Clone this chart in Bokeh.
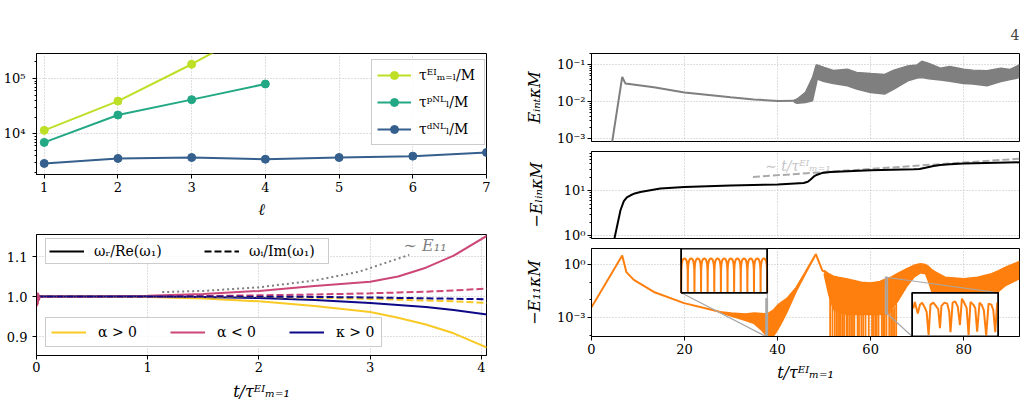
import numpy as np
from bokeh.plotting import figure
from bokeh.layouts import row, column
from bokeh.models import (FixedTicker, CustomJSTickFormatter, PrintfTickFormatter,
                          Legend, LegendItem, Range1d, LogScale)
from bokeh.core.properties import value
from bokeh.embed import file_html
from bokeh.resources import INLINE

FONT = "DejaVu Serif"

# ---------------- top-left: timescales vs ell ----------------
ell_ticks = [1, 2, 3, 4, 5, 6, 7]
ell_EI = [1, 2, 3, 4]
tau_EI = [1.15e4, 3.9e4, 1.82e5, 9.8e5]
ell_pNL = [1, 2, 3, 4]
tau_pNL = [6.95e3, 2.18e4, 4.15e4, 7.98e4]
ell_dNL = [1, 2, 3, 4, 5, 6, 7]
tau_dNL = [2890, 3560, 3700, 3450, 3700, 3920, 4570]

# ---------------- bottom-left: frequency ratios ----------------
t_w = [0.0, 0.5, 1.0, 1.5, 2.0, 2.5, 3.0, 3.25, 3.5, 3.75, 4.05]
wR_apos = [1.0, 1.0, 0.999, 0.995, 0.988, 0.976, 0.961, 0.947, 0.930, 0.908, 0.872]
wR_aneg = [1.0, 1.0, 1.002, 1.006, 1.014, 1.026, 1.037, 1.050, 1.072, 1.102, 1.152]
wR_kpos = [1.0, 1.0, 1.0, 0.999, 0.996, 0.991, 0.984, 0.979, 0.974, 0.966, 0.955]
wI_apos = [1.0, 1.0, 1.0, 0.9995, 0.999, 0.997, 0.994, 0.992, 0.990, 0.988, 0.984]
wI_aneg = [1.0, 1.0, 1.0, 1.001, 1.003, 1.005, 1.008, 1.010, 1.012, 1.015, 1.020]
wI_kpos = [1.0, 1.0, 1.0, 1.0, 0.9995, 0.999, 0.9975, 0.9965, 0.9955, 0.9945, 0.993]
t_E11 = [1.13, 1.5, 2.0, 2.5, 2.9, 3.35]
E11_scaled = [1.011, 1.014, 1.023, 1.040, 1.062, 1.104]
t_start = [0.0, 0.004, 0.008, 0.012, 0.016, 0.02, 0.03]
start_osc = [1.0, 0.976, 1.01, 0.98, 1.008, 0.99, 1.0]
w_ticks = [0, 1, 2, 3, 4]
w_yticks = [0.9, 1.0, 1.1]

# ---------------- right: energies ----------------
t_ticks = [0, 20, 40, 60, 80]
eint_t = [4.0, 6.6, 7.3, 13.4, 20.0, 29.9, 34.9, 40.0, 44.0]
eint = [3.5e-4, 0.047, 0.031, 0.0245, 0.0178, 0.0131, 0.0115, 0.0104, 0.0105]
eint_band_t = [43.5, 44.2, 46.0, 47.5, 48.3, 48.5, 50, 52, 55, 57, 60, 63, 65, 68, 70, 71, 72.5, 75,
               77, 80, 82, 85, 88, 90, 92]
eint_band_hi = [0.0108, 0.0118, 0.0178, 0.045, 0.1, 0.1, 0.085, 0.07, 0.076, 0.062, 0.058, 0.055,
                0.072, 0.094, 0.1, 0.125, 0.11, 0.081, 0.09, 0.076, 0.072, 0.069, 0.081, 0.075, 0.1]
eint_band_lo = [0.0098, 0.009, 0.0095, 0.0105, 0.03, 0.041, 0.035, 0.031, 0.027, 0.022, 0.0178, 0.016,
                0.022, 0.037, 0.044, 0.045, 0.042, 0.039, 0.036, 0.031, 0.03, 0.027, 0.035, 0.04, 0.045]

elin_t = [4.6, 6.23, 6.95, 7.6, 8.4, 9.3, 10.5, 14.8, 20, 29.9, 40, 45.6, 46.5, 47.1, 47.8, 48.5, 49.5,
          51.4, 60, 69.3, 70.5, 71.8, 73.5, 75, 77, 80, 92]
elin = [0.6, 3.7, 5.9, 7.2, 8.0, 8.8, 9.5, 11.3, 12.3, 13.2, 13.9, 15, 16, 18, 21, 23, 25,
        26.5, 28.8, 30.3, 31, 33, 36, 38, 39.5, 40.7, 43.5]
lin_ref_t = [34.7, 92]
lin_ref = [20.5, 52.4]

e11_t = [0, 6.6, 7.5, 9.1, 13.4, 19.9, 24.9, 27.5]
e11 = [0.0038, 3.2, 0.37, 0.135, 0.028, 0.0065, 0.0031, 0.0021]
e11_b1_t = [27.5, 30, 33, 35, 36.5, 37.8]
e11_b1_hi = [0.0021, 0.0018, 0.0016, 0.0018, 0.0017, 0.0016]
e11_b1_lo = [0.0020, 0.0012, 0.0007, 0.00045, 0.0002, 0.00008]
e11_b2_t = [37.8, 39, 40, 41, 42, 44, 46, 48.2]
e11_b2_hi = [0.0016, 0.0025, 0.005, 0.008, 0.012, 0.05, 0.4, 4.0]
e11_b2_lo = [0.00008, 0.00008, 0.0002, 0.0006, 0.002, 0.03, 0.3, 3.5]
e11_peak_t = [48.2, 49.6, 50.0]
e11_peak = [4.0, 0.46, 0.4]
e11_b3_t = [50, 51, 52, 53, 55, 58, 60, 62, 63.5, 64.5, 65.7, 67.9, 69.3, 70.7, 71.8, 72.5, 73.2, 74,
            76, 80, 83, 86, 87.5, 89, 92]
e11_b3_hi = [0.46, 0.3, 0.22, 0.19, 0.15, 0.1, 0.09, 0.11, 0.16, 0.2, 0.3, 0.6, 0.9, 1.1, 1.0, 0.75,
             0.5, 0.37, 0.19, 0.155, 0.19, 0.3, 0.45, 0.7, 1.5]
e11_b3_lo = [0.3, 0.02, 0.003, 0.002, 0.0015, 0.0015, 0.0015, 0.0015, 0.0015, 0.003, 0.0074, 0.065,
             0.19, 0.34, 0.3, 0.1, 0.027, 0.015, 0.01, 0.01, 0.01, 0.02, 0.03, 0.065, 0.16]
e11_spike_t = [51.3, 51.8, 52.3, 52.7, 53.0, 53.4, 53.6, 54.0, 54.3, 54.8, 55.0, 55.4, 55.8, 56.2,
               56.5, 57.2, 57.5, 58.0, 58.4, 58.9, 59.6, 60.3, 60.6, 61.0, 61.3, 61.7, 62.4, 62.7,
               63.0, 63.4, 64.0, 64.4, 64.8, 65.1, 65.5]
e11_spike_top = [0.02, 0.01, 0.003, 0.003, 0.003, 0.002, 0.003, 0.002, 0.002, 0.002, 0.002, 0.002,
                 0.002, 0.002, 0.002, 0.002, 0.002, 0.002, 0.002, 0.002, 0.002, 0.002, 0.002, 0.002,
                 0.002, 0.002, 0.002, 0.002, 0.002, 0.002, 0.003, 0.003, 0.003, 0.004, 0.006]

# inset 1: regular oscillation around t ~ 37.5
inset1_cycle_start = [37.5000, 37.5231, 37.5462, 37.5692, 37.5923, 37.6154, 37.6385,
                      37.6615, 37.6846, 37.7077, 37.7308, 37.7538, 37.7769]
inset1_arch_dt = [0, 0.0005, 0.0015, 0.003, 0.005, 0.0075, 0.0095, 0.0115, 0.0135, 0.0155,
                  0.018, 0.02, 0.0215, 0.0226, 0.0231]
inset1_arch_logy = [-4.075, -3.0, -2.75, -2.6, -2.5, -2.45, -2.43, -2.42, -2.43, -2.45, -2.5,
                    -2.6, -2.75, -3.0, -4.075]
# inset 2: irregular oscillation around t ~ 63.4
inset2_t = [63.205, 63.212, 63.220, 63.226, 63.236, 63.246, 63.257, 63.267, 63.276, 63.285, 63.298,
            63.310, 63.321, 63.329, 63.336, 63.350, 63.363, 63.372, 63.378, 63.388, 63.400, 63.412,
            63.422, 63.431, 63.440, 63.453, 63.462, 63.471, 63.484, 63.493, 63.502, 63.513, 63.524,
            63.533, 63.544, 63.555, 63.568, 63.577, 63.586, 63.595]
inset2_logy = [-1.467, -1.157, -1.467, -1.701, -1.281, -1.188, -1.389, -1.623, -2.711, -1.281, -1.188,
               -1.343, -1.498, -2.401, -1.343, -1.188, -1.233, -1.623, -2.587, -1.188, -1.124, -1.389,
               -2.246, -1.000, -1.157, -1.436, -2.711, -1.157, -1.281, -1.436, -2.556, -1.188, -1.312,
               -1.544, -2.742, -1.233, -1.281, -1.544, -2.587, -1.188]

C_EI, C_PNL, C_DNL = "#bddf26", "#22a884", "#355f8d"
C_AP, C_AN, C_KP = "#f9c925", "#cc4778", "#0d0887"
C_OR, C_GR = "#ff7f0e", "#7f7f7f"


def log_fmt():
    return CustomJSTickFormatter(code="""
const sup = {"-": "\u207b", "0": "\u2070", "1": "\u00b9", "2": "\u00b2", "3": "\u00b3",
             "4": "\u2074", "5": "\u2075", "6": "\u2076", "7": "\u2077", "8": "\u2078", "9": "\u2079"};
const e = Math.round(Math.log10(tick));
return "10" + String(e).split("").map(c => sup[c]).join("");
""")


def minor_log(lo_exp, hi_exp):
    return [m * 10.0 ** e for e in range(lo_exp, hi_exp) for m in range(2, 10)]


def base_fig(w, h, xr, yr, ylog, bl, br, bt, bb, title=None):
    kw = dict(width=w, height=h, x_range=xr, y_range=yr,
              y_axis_type="log" if ylog else "linear",
              output_backend="svg", toolbar_location=None,
              min_border_left=bl, min_border_right=br, min_border_top=bt, min_border_bottom=bb)
    if title is not None:
        kw["title"] = title
    p = figure(**kw)
    p.outline_line_color = "black"
    p.outline_line_alpha = 1.0
    p.outline_line_width = 1
    p.background_fill_color = "white"
    p.border_fill_color = "white"
    for ax in p.axis:
        ax.axis_line_color = "black"
        ax.major_tick_in = 0
        ax.major_tick_out = 4
        ax.minor_tick_in = 0
        ax.minor_tick_out = 2
        ax.major_tick_line_color = "black"
        ax.minor_tick_line_color = "black"
        ax.major_label_text_font = FONT
        ax.major_label_text_font_size = "13px"
        ax.major_label_text_color = "black"
        ax.axis_label_text_font = FONT
        ax.axis_label_text_font_size = "16px"
        ax.axis_label_text_color = "black"
        ax.axis_label_text_font_style = "italic"
    p.grid.grid_line_color = "#b0b0b0"
    p.grid.grid_line_dash = "1 2"
    p.grid.grid_line_alpha = 0.8
    p.grid.grid_line_width = 1
    return p


def style_legend(lg, padding, lh, gw, standoff, spacing, lw):
    lg.padding = padding
    lg.label_height = lh
    lg.glyph_height = lh
    lg.glyph_width = gw
    lg.label_standoff = standoff
    lg.spacing = spacing
    lg.label_width = lw
    lg.margin = 0
    lg.label_text_font = FONT
    lg.label_text_font_size = "14px"
    lg.label_text_color = "black"
    lg.border_line_color = "#cccccc"
    lg.border_line_width = 1.2
    lg.border_line_alpha = 1.0
    lg.background_fill_color = "white"
    lg.background_fill_alpha = 0.85


# ======================= P1 =======================
p1 = base_fig(500, 222, Range1d(0.895, 7.0), Range1d(1820, 2.85e5), True, 36, 14, 53, 48)
p1.xaxis.ticker = FixedTicker(ticks=ell_ticks)
p1.yaxis.ticker = FixedTicker(ticks=[1e4, 1e5], minor_ticks=minor_log(3, 5) + [2e5])
p1.yaxis.formatter = log_fmt()
p1.xaxis.axis_label = "ℓ"
p1.xaxis.major_label_standoff = 3
p1.yaxis.major_label_standoff = 7
for xs, ys, c, lab in [(ell_EI, tau_EI, C_EI, "τᴱᴵₘ₌ₗ/M"),
                       (ell_pNL, tau_pNL, C_PNL, "τᵖᴺᴸₗ/M"),
                       (ell_dNL, tau_dNL, C_DNL, "τᵈᴺᴸₗ/M")]:
    p1.line(xs, ys, color=c, line_width=2, legend_label=lab)
    p1.scatter(xs, ys, color=c, size=8, legend_label=lab)
lg1 = p1.legend[0]
lg1.location = (335, 29)
style_legend(lg1, 5, 20, 34, 8, 7, 60)

# ======================= P2 =======================
p2 = base_fig(500, 189, Range1d(0, 4.045), Range1d(0.8525, 1.155), False, 36, 14, 12, 56)
p2.xaxis.ticker = FixedTicker(ticks=w_ticks)
p2.yaxis.ticker = FixedTicker(ticks=w_yticks)
p2.yaxis.formatter = PrintfTickFormatter(format="%.1f")
p2.xaxis.axis_label = "t/τᴱᴵₘ₌₁"
p2.xaxis.major_label_standoff = 2
p2.xaxis.axis_label_standoff = 7
p2.yaxis.major_label_standoff = 5

p2.line(t_E11, E11_scaled, color="gray", line_width=2, line_dash="2 3")
r_ap = p2.line(t_w, wR_apos, color=C_AP, line_width=2)
r_an = p2.line(t_w, wR_aneg, color=C_AN, line_width=2)
r_kp = p2.line(t_w, wR_kpos, color=C_KP, line_width=2)
p2.line(t_w, wI_apos, color=C_AP, line_width=2, line_dash="7 3")
p2.line(t_w, wI_aneg, color=C_AN, line_width=2, line_dash="7 3")
p2.line(t_w, wI_kpos, color=C_KP, line_width=2, line_dash="7 3")
p2.line(t_start, start_osc, color=C_AN, line_width=2)
p2.text(x=[3.3], y=[1.1035], text=["∼ E₁₁"], text_color="gray", text_font=value(FONT),
        text_font_size="16px", text_baseline="bottom", text_align="left", text_font_style="italic")

# legend-only proxies (kept outside the visible y range)
proxy_t = [0.0, 1.0]
proxy_y = [0.5, 0.5]
d_solid = p2.line(proxy_t, proxy_y, color="black", line_width=2)
d_dash = p2.line(proxy_t, proxy_y, color="black", line_width=2, line_dash="7 3")
lg_top = Legend(items=[LegendItem(label="ωᵣ/Re(ω₁)", renderers=[d_solid]),
                       LegendItem(label="ωᵢ/Im(ω₁)", renderers=[d_dash])],
                location=(9, 91), orientation="horizontal")
style_legend(lg_top, 3, 18, 35, 10, 34, 76)
lg_bot = Legend(items=[LegendItem(label="α > 0", renderers=[r_ap]),
                       LegendItem(label="α < 0", renderers=[r_an]),
                       LegendItem(label="κ > 0", renderers=[r_kp])],
                location=(9, 8), orientation="horizontal")
style_legend(lg_bot, 5, 18, 35, 12, 32, 40)
p2.add_layout(lg_top)
p2.add_layout(lg_bot)

# ======================= P3 =======================
p3 = base_fig(526, 150, Range1d(0, 92), Range1d(10 ** -3.086, 10 ** -0.69), True, 91, 7, 53, 9, title="4")
p3.title.align = "right"
p3.title.text_font = FONT
p3.title.text_font_style = "normal"
p3.title.text_font_size = "14px"
p3.title.standoff = 28
p3.xaxis.visible = False
p3.xgrid.ticker = FixedTicker(ticks=t_ticks)
p3.yaxis.ticker = FixedTicker(ticks=[1e-3, 1e-2, 1e-1], minor_ticks=minor_log(-3, -1) + [0.2])
p3.yaxis.formatter = log_fmt()
p3.yaxis.major_label_standoff = 2
p3.yaxis.axis_label = "EᵢₙₜκM"
p3.yaxis.axis_label_standoff = 10
p3.line(eint_t, eint, color=C_GR, line_width=2)
p3.varea(x=eint_band_t, y1=eint_band_lo, y2=eint_band_hi, color=C_GR)
p3.line(eint_band_t, eint_band_hi, color=C_GR, line_width=1.5)
p3.line(eint_band_t, eint_band_lo, color=C_GR, line_width=1.5)

# ======================= P4 =======================
p4 = base_fig(526, 97, Range1d(0, 92), Range1d(10 ** -0.062, 10 ** 1.88), True, 91, 7, 1, 9)
p4.xaxis.visible = False
p4.xgrid.ticker = FixedTicker(ticks=t_ticks)
p4.yaxis.ticker = FixedTicker(ticks=[1, 10], minor_ticks=[0.9] + minor_log(0, 2))
p4.yaxis.formatter = log_fmt()
p4.yaxis.major_label_standoff = 2
p4.yaxis.axis_label = "−EₗᵢₙκM"
p4.yaxis.axis_label_standoff = 15
p4.line(lin_ref_t, lin_ref, color="#aaaaaa", line_width=2, line_dash="7 3")
p4.line(elin_t, elin, color="black", line_width=2)
p4.text(x=[37.3], y=[10 ** 1.56], text=["∼ t/τᴱᴵₘ₌₁"], text_color="#c4c4c4", text_font=value(FONT),
        text_font_size="14px", text_baseline="alphabetic", text_align="left", text_font_style="italic")

# ======================= P5 =======================
LY0, LY1 = -4.075, 0.906
X0, X1 = 0.0, 92.0
p5 = base_fig(526, 164, Range1d(X0, X1), Range1d(10 ** LY0, 10 ** LY1), True, 91, 7, 1, 75)
p5.xaxis.ticker = FixedTicker(ticks=t_ticks)
p5.xaxis.axis_label = "t/τᴱᴵₘ₌₁"
p5.xaxis.major_label_standoff = 3
p5.xaxis.axis_label_standoff = 6
p5.yaxis.ticker = FixedTicker(ticks=[1e-3, 1.0], minor_ticks=[1e-4, 1e-2, 1e-1])
p5.yaxis.formatter = log_fmt()
p5.yaxis.major_label_standoff = 2
p5.yaxis.axis_label = "−E₁₁κM"
p5.yaxis.axis_label_standoff = 10

p5.line(e11_t, e11, color=C_OR, line_width=2)
for bt, lo, hi in [(e11_b1_t, e11_b1_lo, e11_b1_hi), (e11_b2_t, e11_b2_lo, e11_b2_hi),
                   (e11_b3_t, e11_b3_lo, e11_b3_hi)]:
    p5.varea(x=bt, y1=lo, y2=hi, color=C_OR)
    p5.line(bt, hi, color=C_OR, line_width=1.5)
    p5.line(bt, lo, color=C_OR, line_width=1.5)
p5.line(e11_peak_t, e11_peak, color=C_OR, line_width=2)
p5.segment(x0=e11_spike_t, y0=[1e-6] * len(e11_spike_t), x1=e11_spike_t, y1=e11_spike_top,
           color=C_OR, line_width=1.8)

# insets (box position given in main data coords, inset data range in its own coords)
in1_t, in1_ly = (37.5, 37.8), (-4.075, -1.94)
box1_t, box1_ly = (19.28, 37.77), (-1.60, LY1)
in2_t, in2_ly = (63.2, 63.6), (-2.79, -0.72)
box2_t, box2_ly = (68.94, 87.43), (LY0, -1.60)


def inset_ranges(box_t, box_ly, in_t, in_ly):
    sx = (in_t[1] - in_t[0]) / (box_t[1] - box_t[0])
    xr = Range1d(in_t[0] + (X0 - box_t[0]) * sx, in_t[0] + (X1 - box_t[0]) * sx)
    sy = (in_ly[1] - in_ly[0]) / (box_ly[1] - box_ly[0])
    yr = Range1d(10 ** (in_ly[0] + (LY0 - box_ly[0]) * sy), 10 ** (in_ly[0] + (LY1 - box_ly[0]) * sy))
    return xr, yr


xr1, yr1 = inset_ranges(box1_t, box1_ly, in1_t, in1_ly)
xr2, yr2 = inset_ranges(box2_t, box2_ly, in2_t, in2_ly)
p5.extra_x_ranges = {"i1x": xr1, "i2x": xr2}
p5.extra_y_ranges = {"i1y": yr1, "i2y": yr2}
p5.extra_y_scales = {"i1y": LogScale(), "i2y": LogScale()}

# zoom markers and connectors (main coords)
CONN = "#a8a8a8"
for it, il in [(in1_t, in1_ly), (in2_t, in2_ly)]:
    p5.quad(left=[it[0]], right=[it[1]], bottom=[10 ** il[0]], top=[10 ** il[1]],
            fill_alpha=0, line_color=CONN, line_width=1.5)
p5.segment(x0=[box1_t[0], box1_t[1], in2_t[0], in2_t[1]],
           y0=[10 ** box1_ly[0], 10 ** box1_ly[0], 10 ** in2_ly[1], 10 ** in2_ly[0]],
           x1=[in1_t[0], in1_t[1], box2_t[1], box2_t[0]],
           y1=[10 ** in1_ly[0], 10 ** in1_ly[1], 10 ** box2_ly[1], 10 ** box2_ly[0]],
           color=CONN, line_width=1.2)

# inset 1
ins1_x = [s + d for s in inset1_cycle_start for d in inset1_arch_dt]
ins1_y = [10 ** v for s in inset1_cycle_start for v in inset1_arch_logy]
p5.quad(left=[in1_t[0]], right=[in1_t[1]], bottom=[10 ** in1_ly[0]], top=[10 ** in1_ly[1]],
        fill_color="white", line_color="black", line_width=1.5,
        x_range_name="i1x", y_range_name="i1y")
p5.line(ins1_x, ins1_y, color=C_OR, line_width=2, x_range_name="i1x", y_range_name="i1y")
p5.quad(left=[in1_t[0]], right=[in1_t[1]], bottom=[10 ** in1_ly[0]], top=[10 ** in1_ly[1]],
        fill_alpha=0, line_color="black", line_width=1.5,
        x_range_name="i1x", y_range_name="i1y")

# inset 2
ins2_y = [10 ** v for v in inset2_logy]
p5.quad(left=[in2_t[0]], right=[in2_t[1]], bottom=[10 ** in2_ly[0]], top=[10 ** in2_ly[1]],
        fill_color="white", line_color="black", line_width=1.5,
        x_range_name="i2x", y_range_name="i2y")
p5.line(inset2_t, ins2_y, color=C_OR, line_width=2, x_range_name="i2x", y_range_name="i2y")
p5.quad(left=[in2_t[0]], right=[in2_t[1]], bottom=[10 ** in2_ly[0]], top=[10 ** in2_ly[1]],
        fill_alpha=0, line_color="black", line_width=1.5,
        x_range_name="i2x", y_range_name="i2y")

layout = row(column(p1, p2, spacing=0), column(p3, p4, p5, spacing=0), spacing=0)
open("out.html", "w").write(file_html(layout, INLINE))
